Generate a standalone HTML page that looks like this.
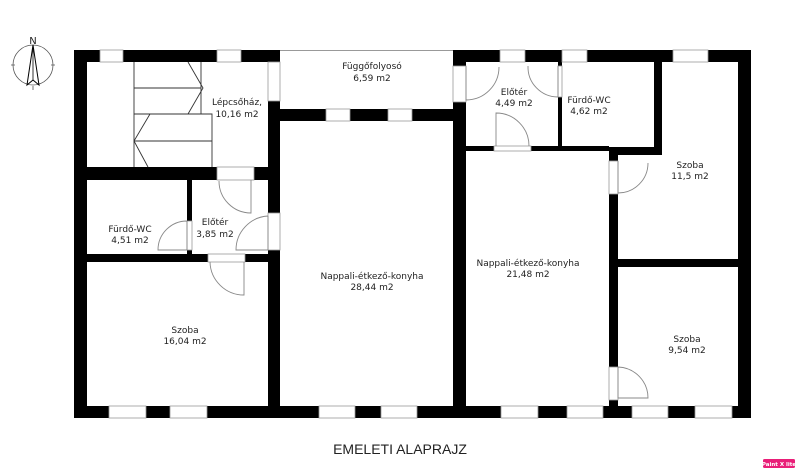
<!DOCTYPE html>
<html><head><meta charset="utf-8"><style>
body{margin:0;background:#fff}
svg{display:block}
text{font-family:"DejaVu Sans","Liberation Sans",sans-serif;font-size:9px;fill:#222;text-anchor:middle}
</style></head><body>
<svg width="800" height="474" viewBox="0 0 800 474" xmlns="http://www.w3.org/2000/svg">
<g fill="#000">
<rect x="74" y="50" width="206" height="12"/>
<rect x="453" y="50" width="298" height="12"/>
<rect x="74" y="50" width="13" height="368"/>
<rect x="738" y="50" width="13" height="368"/>
<rect x="74" y="406" width="677" height="12"/>
<rect x="268" y="50" width="12" height="368"/>
<rect x="280" y="109" width="173" height="12"/>
<rect x="453" y="50" width="13" height="368"/>
<rect x="87" y="167" width="181" height="13"/>
<rect x="187" y="180" width="5" height="74"/>
<rect x="87" y="254" width="181" height="8"/>
<rect x="558" y="62" width="4" height="85"/>
<rect x="466" y="146" width="143" height="5"/>
<rect x="609" y="147" width="53" height="8"/>
<rect x="654" y="62" width="8" height="93"/>
<rect x="609" y="147" width="9" height="259"/>
<rect x="618" y="259" width="120" height="8"/>
</g>
<path d="M280 50.5H453" stroke="#999" stroke-width="1"/>
<g fill="#fff" stroke="#999" stroke-width="0.8">
<rect x="100" y="50" width="23" height="12"/>
<rect x="217" y="50" width="24" height="12"/>
<rect x="500" y="50" width="25" height="12"/>
<rect x="562" y="50" width="25" height="12"/>
<rect x="673" y="50" width="35" height="12"/>
<rect x="268" y="62" width="12" height="39"/>
<rect x="326" y="109" width="24" height="12"/>
<rect x="388" y="109" width="24" height="12"/>
<rect x="109" y="406" width="37" height="12"/>
<rect x="170" y="406" width="37" height="12"/>
<rect x="319" y="406" width="36" height="12"/>
<rect x="381" y="406" width="36" height="12"/>
<rect x="501" y="406" width="37" height="12"/>
<rect x="567" y="406" width="36" height="12"/>
<rect x="632" y="406" width="36" height="12"/>
<rect x="695" y="406" width="37" height="12"/>
<rect x="217" y="167" width="37" height="13"/>
<rect x="187" y="221" width="5" height="29"/>
<rect x="268" y="213" width="12" height="37"/>
<rect x="208" y="254" width="37" height="8"/>
<rect x="453" y="66" width="13" height="36"/>
<rect x="558" y="66" width="4" height="31"/>
<rect x="494" y="146" width="37" height="5"/>
<rect x="609" y="161" width="9" height="33"/>
<rect x="609" y="367" width="9" height="33"/>
</g>
<g fill="none" stroke="#888" stroke-width="0.9">
<path d="M251 180V213A32 32 0 0 1 219 181"/>
<path d="M187 221V250H158A29 29 0 0 1 187 221"/>
<path d="M268 216V250H236A34 34 0 0 1 268 216"/>
<path d="M244 262V295A34 34 0 0 1 210 262"/>
<path d="M466 66V100A33 33 0 0 0 499 67"/>
<path d="M558 66V97A30 30 0 0 1 528 66"/>
<path d="M496 146V113A33 33 0 0 1 529 146"/>
<path d="M618 161V193A30 30 0 0 0 648 163"/>
<path d="M618 367V398H648A31 31 0 0 0 618 367"/>
</g>
<g fill="none" stroke="#333" stroke-width="0.9">
<path d="M134 62V167M201 62V114M134 88H201M134 114H212V167M134 141H212"/>
<path d="M188 62L203 88L188 114M150 114L134 141L148 167"/>
</g>
<g stroke="#555" stroke-width="0.8" fill="none">
<circle cx="33" cy="65" r="20"/>
<path d="M11 65H15M51 65H55M33 86V90"/>
</g>
<path d="M33 45L27 85L33 80L39 85Z" fill="#fff" stroke="#000" stroke-width="1"/>
<path d="M33 45L33 80" stroke="#000" stroke-width="0.8"/>
<text x="33" y="44" style="font-size:10px">N</text>
<text x="372" y="69">Függőfolyosó</text><text x="372" y="81">6,59 m2</text>
<text x="237" y="105">Lépcsőház,</text><text x="237" y="117">10,16 m2</text>
<text x="130" y="232">Fürdő-WC</text><text x="130" y="243">4,51 m2</text>
<text x="215" y="225">Előtér</text><text x="215" y="237">3,85 m2</text>
<text x="185" y="333">Szoba</text><text x="185" y="344">16,04 m2</text>
<text x="372" y="279">Nappali-étkező-konyha</text><text x="372" y="290">28,44 m2</text>
<text x="528" y="266">Nappali-étkező-konyha</text><text x="528" y="277">21,48 m2</text>
<text x="514" y="95">Előtér</text><text x="514" y="106">4,49 m2</text>
<text x="589" y="103">Fürdő-WC</text><text x="589" y="114">4,62 m2</text>
<text x="690" y="168">Szoba</text><text x="690" y="179">11,5 m2</text>
<text x="687" y="342">Szoba</text><text x="687" y="353">9,54 m2</text>
<text x="400" y="454" style="font-size:14px;font-family:'Liberation Sans Narrow','Liberation Sans',sans-serif">EMELETI ALAPRAJZ</text>
<rect x="763" y="459" width="32" height="9" rx="1.5" fill="#e91e78"/>
<text x="779" y="466" style="font-size:5.5px;fill:#fff;font-weight:bold">Paint X lite</text>
</svg>
</body></html>
